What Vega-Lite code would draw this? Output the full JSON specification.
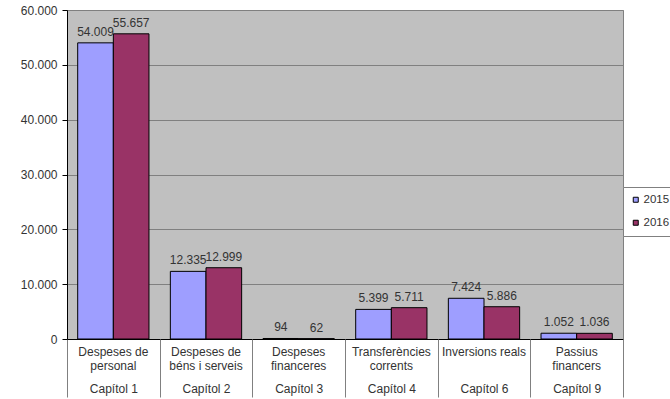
{
  "$schema": "https://vega.github.io/schema/vega-lite/v6.json",
  "width": 556,
  "height": 329,
  "autosize": {"type": "none"},
  "padding": {"left": 67, "top": 10, "right": 47, "bottom": 60},
  "background": "white",
  "config": {
    "font": "Liberation Sans",
    "locale": {"number": {"decimal": ",", "thousands": ".", "grouping": [3], "currency": ["", " €"]}},
    "view": {"fill": "#c0c0c0", "stroke": "#808080", "strokeWidth": 1},
    "axis": {"labelFont": "Liberation Sans", "labelFontSize": 12, "labelColor": "#333333"}
  },
  "data": {"values": [
    {"capitol": "Capítol 1", "any": "2015", "valor": 54009},
    {"capitol": "Capítol 1", "any": "2016", "valor": 55657},
    {"capitol": "Capítol 2", "any": "2015", "valor": 12335},
    {"capitol": "Capítol 2", "any": "2016", "valor": 12999},
    {"capitol": "Capítol 3", "any": "2015", "valor": 94},
    {"capitol": "Capítol 3", "any": "2016", "valor": 62},
    {"capitol": "Capítol 4", "any": "2015", "valor": 5399},
    {"capitol": "Capítol 4", "any": "2016", "valor": 5711},
    {"capitol": "Capítol 6", "any": "2015", "valor": 7424},
    {"capitol": "Capítol 6", "any": "2016", "valor": 5886},
    {"capitol": "Capítol 9", "any": "2015", "valor": 1052},
    {"capitol": "Capítol 9", "any": "2016", "valor": 1036}
  ]},
  "resolve": {"axis": {"x": "independent"}},
  "layer": [
    {
      "mark": {"type": "bar", "stroke": "black", "strokeWidth": 1},
      "encoding": {
        "x": {
          "field": "capitol", "type": "nominal",
          "scale": {"paddingInner": 0, "paddingOuter": 0},
          "axis": {
            "orient": "bottom", "title": null, "labelAngle": 0, "ticks": false,
            "domainColor": "#000000", "labelPadding": 7, "labelLineHeight": 14,
            "labelBaseline": "top",
            "labelExpr": "{'Capítol 1': ['Despeses de', 'personal'], 'Capítol 2': ['Despeses de', 'béns i serveis'], 'Capítol 3': ['Despeses', 'financeres'], 'Capítol 4': ['Transferències', 'corrents'], 'Capítol 6': ['Inversions reals'], 'Capítol 9': ['Passius', 'financers']}[datum.value]"
          }
        },
        "xOffset": {"field": "any", "type": "nominal", "scale": {"paddingOuter": 0.3, "paddingInner": 0}},
        "y": {
          "field": "valor", "type": "quantitative",
          "scale": {"domain": [0, 60000], "nice": false},
          "axis": {
            "title": null, "values": [0, 10000, 20000, 30000, 40000, 50000, 60000],
            "format": ",d",
            "grid": true, "gridColor": "#808080", "gridOpacity": 1,
            "domainColor": "#000000", "tickColor": "#000000", "tickSize": 5, "labelPadding": 5
          }
        },
        "color": {
          "field": "any", "type": "nominal",
          "scale": {"domain": ["2015", "2016"], "range": ["#9e9eff", "#993366"]},
          "legend": {
            "title": null, "orient": "none", "legendX": 556, "legendY": 177,
            "symbolType": "square", "symbolSize": 25, "symbolStrokeColor": "black", "symbolStrokeWidth": 1,
            "labelFont": "Liberation Sans", "labelFontSize": 11.5, "labelColor": "#333333",
            "fillColor": "white", "strokeColor": "#808080", "padding": 7, "rowPadding": 10, "labelOffset": 2
          }
        }
      }
    },
    {
      "mark": {"type": "text", "baseline": "bottom", "dy": -4, "fontSize": 12, "font": "Liberation Sans", "color": "#333333"},
      "encoding": {
        "x": {
          "field": "capitol", "type": "nominal",
          "axis": {
            "orient": "bottom", "title": null, "labelAngle": 0, "domain": false, "ticks": true,
            "tickBand": "extent", "tickSize": 58, "tickColor": "#808080",
            "labelPadding": -14, "labelBaseline": "top"
          }
        },
        "xOffset": {"field": "any", "type": "nominal"},
        "y": {"field": "valor", "type": "quantitative"},
        "text": {"field": "valor", "type": "quantitative", "format": ",d"}
      }
    }
  ]
}
